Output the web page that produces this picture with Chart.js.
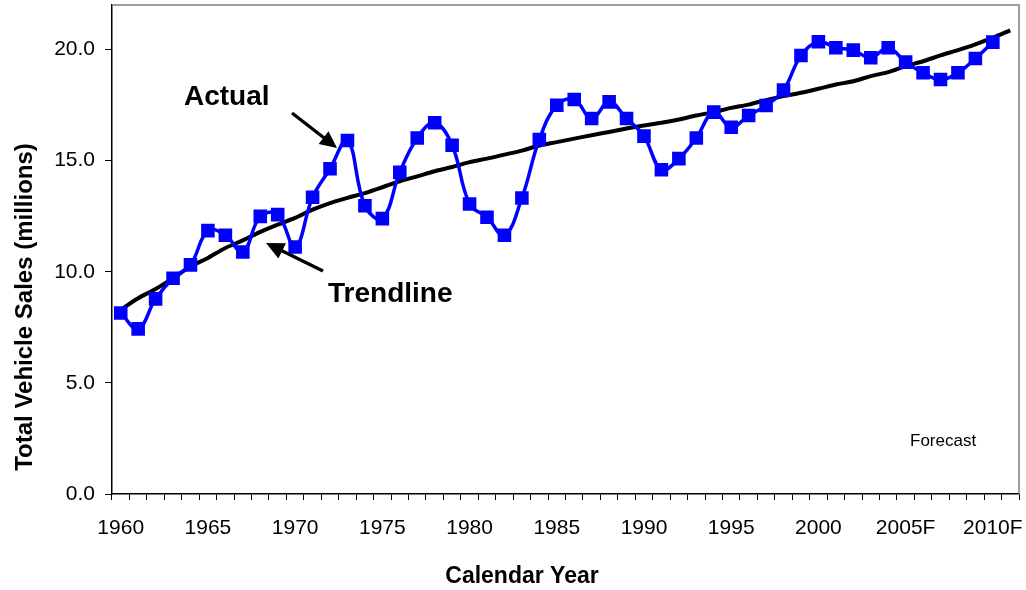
<!DOCTYPE html>
<html>
<head>
<meta charset="utf-8">
<script src="https://cdn.jsdelivr.net/npm/chart.js@4.4.1/dist/chart.umd.min.js"></script>
<style>
  html, body { margin: 0; padding: 0; background: #fff; }
  #wrap { width: 1026px; height: 590px; position: relative; }
</style>
</head>
<body>
<div id="wrap"><canvas id="c" width="1026" height="590"></canvas></div>
<script>
// ---- data ----
const years = [];
for (let y = 1960; y <= 2011; y++) years.push(String(y));

const tickLabels = ['1960','1965','1970','1975','1980','1985','1990','1995','2000','2005F','2010F'];

const actual = [
  8.14, 7.43, 8.78, 9.71, 10.31, 11.85, 11.64, 10.89, 12.49, 12.57,
  11.11, 13.35, 14.63, 15.90, 12.97, 12.39, 14.47, 16.02, 16.70, 15.69,
  13.05, 12.45, 11.64, 13.32, 15.95, 17.49, 17.75, 16.89, 17.64, 16.89,
  16.10, 14.59, 15.09, 16.02, 17.18, 16.50, 17.03, 17.48, 18.17, 19.73,
  20.35, 20.08, 19.97, 19.63, 20.08, 19.43, 18.95, 18.65, 18.95, 19.59, 20.33
];

const trend = [
  8.29, 8.81, 9.22, 9.71, 10.24, 10.62, 11.07, 11.41, 11.79, 12.12,
  12.42, 12.79, 13.09, 13.32, 13.54, 13.80, 14.07, 14.29, 14.52, 14.71,
  14.93, 15.09, 15.27, 15.45, 15.68, 15.83, 15.99, 16.14, 16.29, 16.44,
  16.58, 16.70, 16.85, 17.03, 17.18, 17.37, 17.52, 17.72, 17.90, 18.05,
  18.23, 18.42, 18.57, 18.80, 18.98, 19.25, 19.47, 19.73, 19.97, 20.23, 20.53, 20.86
];

const FONT = "'Liberation Sans', Arial, Helvetica, sans-serif";

function arrow(ctx, x1, y1, x2, y2, headLen, headHalf) {
  const dx = x2 - x1, dy = y2 - y1;
  const len = Math.hypot(dx, dy);
  const ux = dx / len, uy = dy / len;
  const bx = x2 - ux * headLen, by = y2 - uy * headLen;
  ctx.save();
  ctx.strokeStyle = '#000';
  ctx.fillStyle = '#000';
  ctx.lineWidth = 3.3;
  ctx.beginPath();
  ctx.moveTo(x1, y1);
  ctx.lineTo(bx + ux * 2, by + uy * 2);
  ctx.stroke();
  ctx.beginPath();
  ctx.moveTo(x2, y2);
  ctx.lineTo(bx - uy * headHalf, by + ux * headHalf);
  ctx.lineTo(bx + uy * headHalf, by - ux * headHalf);
  ctx.closePath();
  ctx.fill();
  ctx.restore();
}

const decor = {
  id: 'decor',
  afterDraw(chart) {
    const ctx = chart.ctx;
    const a = chart.chartArea;
    ctx.save();
    // top & right frame
    ctx.strokeStyle = '#808080';
    ctx.lineWidth = 1.5;
    ctx.beginPath();
    ctx.moveTo(a.left, a.top);
    ctx.lineTo(a.right, a.top);
    ctx.lineTo(a.right, a.bottom);
    ctx.stroke();

    // annotations
    ctx.fillStyle = '#000';
    ctx.textAlign = 'left';
    ctx.textBaseline = 'alphabetic';
    ctx.font = "bold 28px " + FONT;
    ctx.fillText('Actual', 184, 105);
    ctx.fillText('Trendline', 328, 302);
    ctx.font = "17px " + FONT;
    ctx.fillText('Forecast', 910, 446);

    arrow(ctx, 292, 113, 337, 148, 17, 8);
    arrow(ctx, 323, 271, 266, 243, 18, 8.5);

    // axis titles
    ctx.font = "bold 23px " + FONT;
    ctx.textAlign = 'center';
    ctx.fillText('Calendar Year', 522, 583);
    ctx.save();
    ctx.translate(32, 307);
    ctx.rotate(-Math.PI / 2);
    ctx.font = "bold 24px " + FONT;
    ctx.fillText('Total Vehicle Sales (millions)', 0, 0);
    ctx.restore();
    ctx.restore();
  }
};

new Chart(document.getElementById('c'), {
  type: 'line',
  data: {
    labels: years,
    datasets: [
      {
        label: 'Trendline',
        data: trend,
        borderColor: '#000',
        borderWidth: 4,
        pointRadius: 0,
        tension: 0.3,
        fill: false,
        order: 1
      },
      {
        label: 'Actual',
        data: actual,
        borderColor: '#0000FF',
        backgroundColor: '#0000FF',
        borderWidth: 3.5,
        pointStyle: 'rect',
        pointRadius: 9.6,
        pointBorderWidth: 0,
        pointBackgroundColor: '#0000FF',
        tension: 0.4,
        fill: false,
        order: 0
      }
    ]
  },
  options: {
    responsive: false,
    animation: false,
    devicePixelRatio: 1,
    layout: { autoPadding: false, padding: { left: 0, top: 5, right: 7, bottom: 0 } },
    plugins: {
      legend: { display: false },
      tooltip: { enabled: false },
      title: { display: false }
    },
    scales: {
      x: {
        type: 'category',
        offset: true,
        grid: {
          offset: true,
          drawOnChartArea: false,
          drawTicks: true,
          tickLength: 6,
          color: '#000',
          lineWidth: 1
        },
        border: { display: true, color: '#000', width: 1.5 },
        ticks: {
          autoSkip: false,
          maxRotation: 0,
          minRotation: 0,
          padding: 16,
          color: '#000',
          font: { family: FONT, size: 21 },
          callback: function (v, i) { return i % 5 === 0 ? (tickLabels[i / 5] || '') : ''; }
        },
        afterFit(scale) {
          scale.height = 96;
          scale.paddingLeft = 0; scale.paddingRight = 0;
          scale.paddingTop = 0; scale.paddingBottom = 0;
        }
      },
      y: {
        min: 0,
        max: 22,
        grid: {
          drawOnChartArea: false,
          drawTicks: true,
          tickLength: 7,
          color: '#000',
          lineWidth: 1
        },
        border: { display: true, color: '#000', width: 1.5 },
        ticks: {
          stepSize: 5,
          padding: 10,
          color: '#000',
          font: { family: FONT, size: 21 },
          callback: function (v) { return Number(v).toFixed(1); }
        },
        afterBuildTicks(scale) { scale.ticks = scale.ticks.filter(t => t.value <= 20); },
        afterFit(scale) {
          scale.width = 112;
          scale.paddingTop = 0; scale.paddingBottom = 0;
          scale.paddingLeft = 0; scale.paddingRight = 0;
        }
      }
    }
  },
  plugins: [decor]
});
</script>
</body>
</html>
